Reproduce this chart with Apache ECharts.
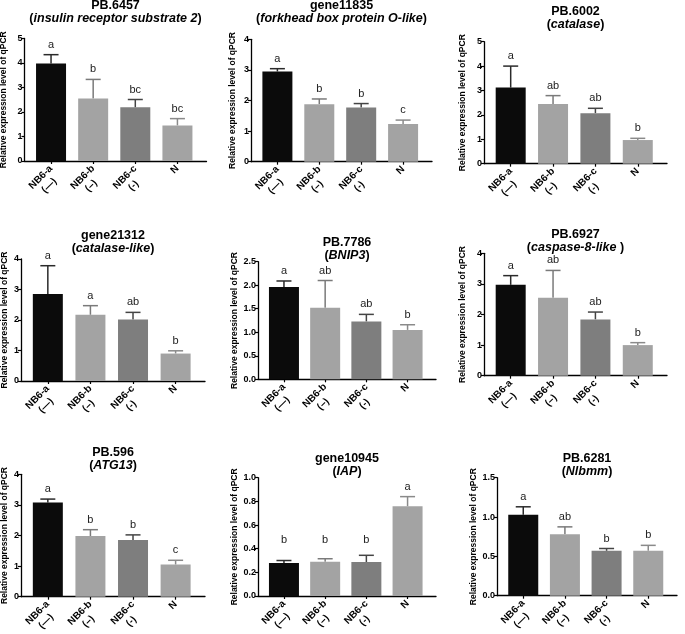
<!DOCTYPE html>
<html>
<head>
<meta charset="utf-8">
<script src="https://cdn.jsdelivr.net/npm/echarts@6/dist/echarts.min.js"></script>
<style>html,body{margin:0;padding:0;background:#fff}#box{width:685px;height:634px}</style>
</head>
<body>
<div id="box"></div>
<script>
/* qPCR panels, 3x3 */
var groups = ['NB6-a', 'NB6-b', 'NB6-c', 'N'];
var groupSub = ['(—)', '(–)', '(-)', ''];

var geneIds = ['PB.6457', 'gene11835', 'PB.6002', 'gene21312', 'PB.7786', 'PB.6927', 'PB.596', 'gene10945', 'PB.6281'];
var geneNames = ['insulin receptor substrate 2', 'forkhead box protein O-like', 'catalase', 'catalase-like', 'BNIP3', 'caspase-8-like ', 'ATG13', 'IAP', 'Nlbmm'];

var means = [
    [3.98, 2.55, 2.19, 1.45],
    [2.95, 1.88, 1.77, 1.23],
    [3.12, 2.45, 2.07, 0.97],
    [2.85, 2.17, 2.02, 0.90],
    [1.96, 1.52, 1.23, 1.05],
    [2.97, 2.55, 1.84, 1.00],
    [3.08, 1.98, 1.85, 1.05],
    [0.28, 0.29, 0.287, 0.758],
    [1.03, 0.78, 0.57, 0.57]
];
var errs = [
    [0.36, 0.78, 0.32, 0.28],
    [0.09, 0.17, 0.13, 0.13],
    [0.88, 0.34, 0.20, 0.07],
    [0.93, 0.30, 0.23, 0.09],
    [0.13, 0.58, 0.15, 0.11],
    [0.30, 0.89, 0.24, 0.08],
    [0.11, 0.21, 0.17, 0.14],
    [0.02, 0.025, 0.057, 0.082],
    [0.10, 0.095, 0.03, 0.07]
];
var letters = [
    ['a', 'b', 'bc', 'bc'],
    ['a', 'b', 'b', 'c'],
    ['a', 'ab', 'ab', 'b'],
    ['a', 'a', 'ab', 'b'],
    ['a', 'ab', 'ab', 'b'],
    ['a', 'ab', 'ab', 'b'],
    ['a', 'b', 'b', 'c'],
    ['b', 'b', 'b', 'a'],
    ['a', 'ab', 'b', 'b']
];
var yMax = [5, 4, 5, 4, 2.5, 4, 4, 1.0, 1.5];
var yStep = [1, 1, 1, 1, 0.5, 1, 1, 0.2, 0.5];
var yDigits = [0, 0, 0, 0, 1, 0, 0, 1, 1];
var letterFloor = [null, null, null, null, null, null, null, 0.47, null];

// layout of each panel: y axis x, x axis end, top (ymax), bottom (0), title top, name gap
var boxes = [
    [24.5, 206.5, 38.5, 161, -1, 16],
    [251, 432, 39.3, 161.7, -1, 14],
    [484, 667, 41.7, 163.7, 5, 17],
    [21, 205, 259, 381, 229, 12],
    [258, 436, 261.7, 379.3, 236, 16],
    [484, 667, 253.3, 375.7, 228, 17],
    [21, 205, 474.3, 596.7, 446.5, 12],
    [258, 436, 477.7, 596, 452, 16],
    [497, 677, 477.7, 595.7, 452, 16]
];

var barColors = ['#0b0b0b', '#a3a3a3', '#7e7e7e', '#a3a3a3'];
var errColors = ['#2a2a2a', '#7a7a7a', '#444444', '#8a8a8a'];
var FONT = 'Liberation Sans';
var LABEL_FONT = 'bold 10px "Liberation Sans"';

var dom = document.getElementById('box');
var myChart = echarts.init(dom, null, {renderer: 'canvas'});

var grids = [], xAxes = [], yAxes = [], titles = [], series = [];

// rotated group label (45deg, reading upward) hanging under a category tick
function groupLabel(i, x, y) {
    var w = echarts.format.getTextRect
        ? echarts.format.getTextRect(groups[i], LABEL_FONT).width
        : 29;
    var kids = [{
        type: 'text',
        style: {text: groups[i], x: 0, y: 0, align: 'right', verticalAlign: 'middle', font: LABEL_FONT, fill: '#000'}
    }];
    if (groupSub[i]) {
        kids.push({
            type: 'text',
            style: {text: groupSub[i], x: -w / 2, y: 12, align: 'center', verticalAlign: 'middle', font: LABEL_FONT, fill: '#000'}
        });
    }
    return {type: 'group', x: x, y: y + 6, rotation: Math.PI / 4, children: kids};
}

geneIds.forEach(function (id, k) {
    var b = boxes[k];
    grids.push({left: b[0], top: b[2], width: b[1] - b[0], height: b[3] - b[2], outerBoundsMode: 'none'});
    titles.push({
        text: '{t|' + id + '}\n{p|(}{i|' + geneNames[k] + '}{p|)}',
        left: (b[0] + b[1]) / 2,
        top: b[4],
        padding: 0,
        textAlign: 'center',
        textStyle: {
            rich: {
                t: {fontFamily: FONT, fontWeight: 'bold', fontSize: 12.5, lineHeight: 13, color: '#000'},
                p: {fontFamily: FONT, fontWeight: 'bold', fontSize: 12.5, lineHeight: 13, color: '#000'},
                i: {fontFamily: FONT, fontWeight: 'bold', fontStyle: 'italic', fontSize: 12.5, lineHeight: 13, color: '#000'}
            }
        }
    });
    xAxes.push({
        gridIndex: k,
        type: 'value',
        min: -0.63,
        max: 3.69,
        splitLine: {show: false},
        axisLine: {show: true, onZero: false, lineStyle: {color: '#000', width: 1.3}},
        axisTick: {show: true, customValues: [0, 1, 2, 3], length: 3, lineStyle: {color: '#000', width: 1.2}},
        axisLabel: {show: false}
    });
    yAxes.push({
        gridIndex: k,
        type: 'value',
        min: 0,
        max: yMax[k],
        interval: yStep[k],
        splitLine: {show: false},
        axisLine: {show: true, onZero: false, lineStyle: {color: '#000', width: 1.3}},
        axisTick: {show: true, length: 3, lineStyle: {color: '#000', width: 1.2}},
        axisLabel: {
            margin: 2,
            fontFamily: FONT, fontWeight: 'bold', fontSize: 9, color: '#000',
            formatter: (function (d) { return function (v) { return v.toFixed(d); }; })(yDigits[k])
        },
        name: 'Relative expression level of qPCR',
        nameLocation: 'middle',
        nameGap: b[5],
        nameTextStyle: {fontFamily: FONT, fontWeight: 'bold', fontSize: 8.5, color: '#000'}
    });

    series.push({
        type: 'bar',
        xAxisIndex: k,
        yAxisIndex: k,
        barWidth: 30,
        silent: true,
        data: means[k].map(function (m, i) {
            return {value: [i, m], itemStyle: {color: barColors[i]}};
        })
    });
    series.push({
        type: 'custom',
        xAxisIndex: k,
        yAxisIndex: k,
        silent: true,
        clip: false,
        data: means[k].map(function (m, i) { return [i, m, m + errs[k][i]]; }),
        renderItem: function (params, api) {
            var i = params.dataIndex;
            var p = api.coord([api.value(0), api.value(1)]);
            var t = api.coord([api.value(0), api.value(2)]);
            var base = api.coord([api.value(0), 0]);
            var cap = 7.5;
            var ly = t[1] - 10;
            if (letterFloor[k] != null) {
                ly = Math.min(ly, api.coord([0, letterFloor[k]])[1]);
            }
            var st = {stroke: errColors[i], lineWidth: 1.5};
            return {
                type: 'group',
                children: [
                    {type: 'line', shape: {x1: p[0], y1: p[1], x2: t[0], y2: t[1]}, style: st},
                    {type: 'line', shape: {x1: t[0] - cap, y1: t[1], x2: t[0] + cap, y2: t[1]}, style: st},
                    {type: 'text', style: {
                        text: letters[k][i], x: t[0], y: ly,
                        align: 'center', verticalAlign: 'middle',
                        fontFamily: FONT, fontSize: 11, fill: '#222'
                    }},
                    groupLabel(i, base[0], base[1])
                ]
            };
        }
    });
});

option = {
    animation: false,
    backgroundColor: '#fff',
    title: titles,
    grid: grids,
    xAxis: xAxes,
    yAxis: yAxes,
    series: series
};

if (option && typeof option === "object") {
    myChart.setOption(option, true);
}
</script>
</body>
</html>
